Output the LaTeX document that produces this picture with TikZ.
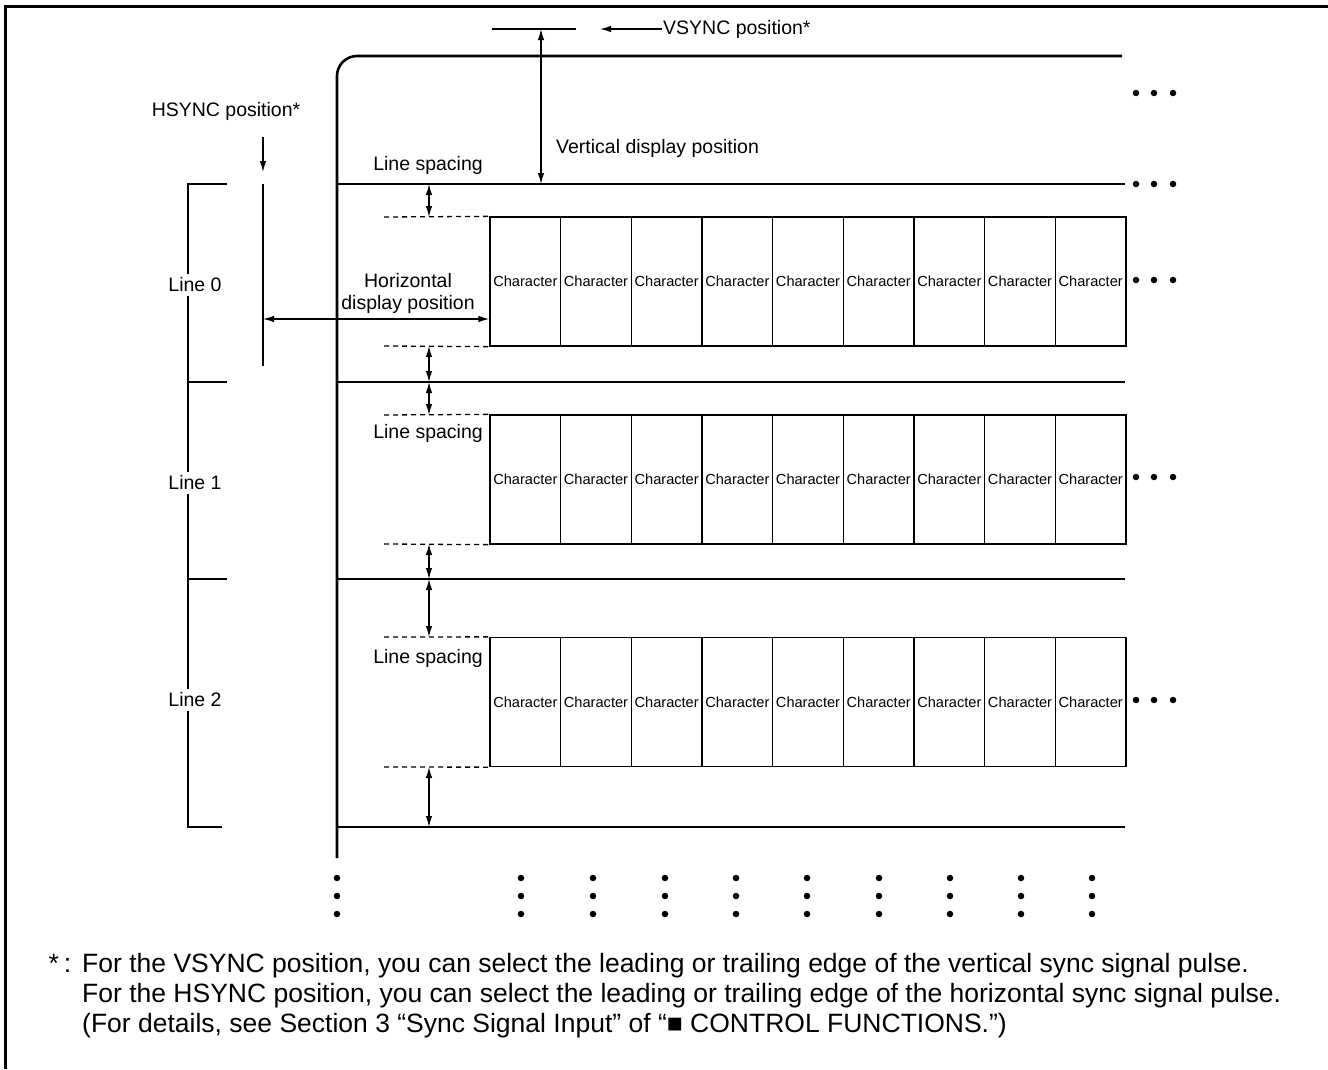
\documentclass[tikz,border=0pt]{standalone}
\usepackage{fontspec}
\setmainfont{Liberation Sans}
\usetikzlibrary{arrows.meta}

\begin{document}
\begin{tikzpicture}[x=1pt,y=-1pt,
  thinline/.style={line width=1.3pt},
  thickline/.style={line width=2.6pt},
  dimarrow/.style={line width=1.3pt,{Latex[length=11pt,width=6.5pt]}-{Latex[length=11pt,width=6.5pt]}},
  onearrow/.style={line width=1.3pt,-{Latex[length=11pt,width=6.5pt]}},
  charbox/.style={draw,line width=1.3pt,minimum width=70.67pt,minimum height=129pt,inner sep=0pt,font=\fontsize{14.6}{16}\selectfont},
  lbl/.style={font=\fontsize{19.5}{22}\selectfont,inner sep=1pt},
  note/.style={font=\fontsize{26.5}{30}\selectfont,inner sep=0pt,anchor=base west},
  dot/.style={circle,fill,inner sep=0pt,minimum size=6.5pt}]
\useasboundingbox (0,0) rectangle (1328,1069);

% outer frame
\draw[line width=3pt] (5,1069) -- (5,6) -- (1328,6);

% screen edge
\draw[thickline,rounded corners=20pt] (337,858) -- (337,56) -- (1122,56);

% character rows
\foreach \r/\y in {0/281.5,1/479.5,2/702} {
  \foreach \c in {0,...,8} {
    \node[charbox] (c\r\c) at ({525.33+70.67*\c},\y) {Character};
  }
}

% line boundaries
\coordinate (l0) at (337,184);
\coordinate (l1) at (337,382);
\coordinate (l2) at (337,579);
\coordinate (l3) at (337,827);
\draw[thinline] (l0) -- (1125,184);
\draw[thinline] (l1) -- (1125,382);
\draw[thinline] (l2) -- (1125,579);
\draw[thinline] (l3) -- (1125,827);

% dashed guides
\coordinate (d0t) at (384,217);
\coordinate (d0b) at (384,346);
\coordinate (d1t) at (384,415);
\coordinate (d1b) at (384,544);
\coordinate (d2t) at (384,637);
\coordinate (d2b) at (384,767);
\draw[thinline,dash pattern=on 5pt off 4pt] (d0t) -- (c00.north west) (d0b) -- (c00.south west);
\draw[thinline,dash pattern=on 5pt off 4pt] (d1t) -- (c10.north west) (d1b) -- (c10.south west);
\draw[thinline,dash pattern=on 5pt off 4pt] (d2t) -- (c20.north west) (d2b) -- (c20.south west);

% line spacing arrows
\draw[dimarrow] (429,184) -- (429,217);
\draw[dimarrow] (429,346) -- (429,382);
\draw[dimarrow] (429,382) -- (429,415);
\draw[dimarrow] (429,544) -- (429,579);
\draw[dimarrow] (429,579) -- (429,637);
\draw[dimarrow] (429,767) -- (429,827);
\node[lbl] (ls0) at (428,165) {Line spacing};
\node[lbl] (ls1) at (428,433) {Line spacing};
\node[lbl] (ls2) at (428,658) {Line spacing};

% vertical display position
\coordinate (vs) at (541,29);
\coordinate (vd) at (541,184);
\draw[thinline] (492,29) -- (576,29);
\draw[dimarrow] (vs) -- (vd);
\node[lbl,anchor=west] (vdp) at (555,148) {Vertical display position};
\node[lbl,anchor=west] (vsync) at (662,29) {VSYNC position*};
\coordinate (vsa) at (600,29);
\draw[onearrow] (vsync.west) -- (vsa);

% horizontal display position
\node[lbl] (hsync) at (226,111) {HSYNC position*};
\coordinate (hs) at (263,137);
\coordinate (hd) at (263,172);
\draw[onearrow] (hs) -- (hd);
\draw[thinline] (263,184) -- (263,366);
\coordinate (ha) at (263,319);
\draw[dimarrow] (ha) -- (c00.west |- ha);
\node[lbl,align=center] (hdp) at (408,293) {Horizontal\\display position};

% line brackets
\draw[thinline] (227,184) -- (188,184) -- (188,827) -- (222,827);
\draw[thinline] (188,382) -- (227,382);
\draw[thinline] (188,579) -- (227,579);
\node[lbl,fill=white,inner ysep=4pt] (line0) at (195,285) {Line 0};
\node[lbl,fill=white,inner ysep=4pt] (line1) at (195,483) {Line 1};
\node[lbl,fill=white,inner ysep=4pt] (line2) at (195,700) {Line 2};

% continuation dots
\foreach \y in {93,184,280,477,700} {
  \foreach \x in {1136,1154,1173} {
    \node[dot] at (\x,\y) {};
  }
}
\foreach \x in {337,521,593,665,736,807,879,950,1021,1092} {
  \foreach \y in {878,896,914} {
    \node[dot] at (\x,\y) {};
  }
}

% footnote
\node[note] (n1) at (82,972) {\llap{*\kern5pt:\kern11pt}For the VSYNC position, you can select the leading or trailing edge of the vertical sync signal pulse.};
\node[note] (n2) at (82,1002) {For the HSYNC position, you can select the leading or trailing edge of the horizontal sync signal pulse.};
\node[note] (n3) at (82,1032) {(For details, see Section 3 “Sync Signal Input” of “■ CONTROL FUNCTIONS.”)};
\end{tikzpicture}
\end{document}
